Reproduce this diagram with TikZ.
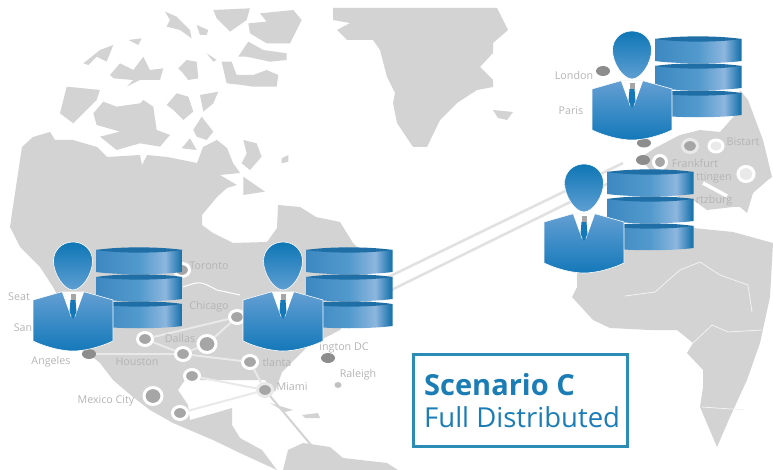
\documentclass[tikz,border=0pt]{standalone}
\usepackage{fontspec}
\setmainfont{Open Sans}
\usepackage{xcolor}
\usepackage{tikz}
\usetikzlibrary{shapes.geometric}
\definecolor{land}{HTML}{D3D3D3}
\definecolor{linkgray}{HTML}{E9E9E9}
\definecolor{oceanlink}{HTML}{E1E1E1}
\definecolor{citygray}{HTML}{A6A6A6}
\definecolor{citytext}{HTML}{B4B4B4}
\definecolor{headtop}{HTML}{0E76B5}
\definecolor{headbot}{HTML}{5F9FD3}
\definecolor{suittop}{HTML}{639FD3}
\definecolor{suitbot}{HTML}{1478B9}
\definecolor{dbleft}{HTML}{3D88C1}
\definecolor{dbmid}{HTML}{529ACD}
\definecolor{dblight}{HTML}{8DB6DE}
\definecolor{dbright}{HTML}{1C74AD}
\definecolor{dbtop}{HTML}{1F6FA6}
\definecolor{boxblue}{HTML}{2B8CB6}
\definecolor{textblue}{HTML}{1B7DB5}
\pgfdeclarehorizontalshading{dbshade}{100bp}{color(0bp)=(dbleft); color(25bp)=(dbleft); color(50bp)=(dbmid); color(65bp)=(dblight); color(74bp)=(dbright); color(75bp)=(dbright); color(100bp)=(dbright)}
\tikzset{
	ringcity/.style={ellipse,fill=citygray,draw=white,line width=3,inner sep=0,minimum width=15,minimum height=13},
	darkcity/.style={ringcity,minimum width=18,minimum height=17},
	palecity/.style={ringcity,fill=linkgray,minimum width=14,minimum height=12},
	dotcity/.style={ellipse,fill=citygray!85!black,inner sep=0,minimum width=14,minimum height=10},
	citylabel/.style={text=citytext,font=\fontsize{10.7}{11}\selectfont,inner sep=0},
	scenariotext/.style={anchor=base west,text=textblue,inner sep=0},
	link/.style={draw=linkgray,line width=2},
	oceanline/.style={draw=oceanlink,line width=2.6},
	border/.style={draw=white!70!land,line width=0.8},
	userdb/.pic={
		% DISKS
		\foreach \y in {-18,9,36}{
			\shade[shading=dbshade] (23,\y+2) -- (23,\y+24) .. controls (45,\y+27) and (87,\y+27) .. (109.5,\y+24) -- (109.5,\y+2) -- cycle;
			\fill[dbtop] (23,\y+2) .. controls (45,\y-1.5) and (87,\y-1.5) .. (109.5,\y+2) .. controls (87,\y+5.5) and (45,\y+5.5) .. (23,\y+2) -- cycle;
		}
		% BODY
		\shade[top color=suittop,bottom color=suitbot,draw=white,line width=0.6] (-12,26) -- (-40,34) -- (-40,75) .. controls (-25,82) and (-10,85) .. (0,85) .. controls (10,85) and (25,82) .. (40,75) -- (40,34) -- (12,26) -- cycle;
		\fill[white] (-11,26) -- (-2,51) -- (0,44) -- (2,51) -- (11,26) -- cycle;
		\fill[suitbot] (-2.5,34) -- (2.5,34) -- (3.5,46) -- (0,53) -- (-3.5,46) -- cycle;
		\fill[citygray] (-2.5,28) rectangle (2.5,34);
		% HEAD
		\shade[top color=headtop,bottom color=headbot,draw=white,line width=0.6] (0,-24) .. controls (12,-24) and (19.5,-15) .. (19.5,-5) .. controls (19.5,8) and (9,24) .. (0,24) .. controls (-9,24) and (-19.5,8) .. (-19.5,-5) .. controls (-19.5,-15) and (-12,-24) .. (0,-24) -- cycle;
	}
}
\begin{document}
\begin{tikzpicture}[x=1pt,y=-1pt]
	\useasboundingbox (0,0) rectangle (773,470);
	
	% AMERICA
	\fill[land] (22,147) -- (33,137) -- (50,132) -- (55,140) -- (73,140) -- (97,147) -- (107,157) -- (140,155) -- (142,165) -- (147,155) -- (167,157) -- (197,163) -- (203,147) -- (217,140) -- (227,148) -- (233,163) -- (240,173) -- (220,175) -- (237,185) -- (227,188) -- (217,197) -- (202,215) -- (202,225) -- (213,233) -- (233,243) -- (267,242) -- (277,228) -- (278,205) -- (300,207) -- (316,217) -- (340,222) -- (353,243) -- (365,255) -- (370,290) -- (340,330) -- (307,347) -- (282,372) -- (275,392) -- (265,380) -- (200,380) -- (185,380) -- (178,390) -- (188,405) -- (190,420) -- (215,413) -- (232,408) -- (232,425) -- (240,438) -- (262,450) -- (277,470) -- (240,453) -- (213,440) -- (173,423) -- (150,410) -- (133,397) -- (113,380) -- (100,363) -- (89,354) -- (53,287) -- (40,267) -- (20,247) -- (10,227) -- (12,213) -- cycle;
	\fill[land] (283,470) -- (288,450) -- (303,443) -- (330,447) -- (343,458) -- (387,463) -- (398,470) -- cycle;
	\fill[land] (270,403) -- (293,410) -- (285,412) -- cycle;
	\fill[land] (302,415) -- (318,413) -- (320,418) -- (305,418) -- cycle;
	
	% ISLANDS
	\begin{scope}[x=0.3333pt,y=-0.3333pt]
		\fill[land] (180,340) -- (200,260) -- (300,270) -- (290,300) -- (220,370) -- cycle;
		\fill[land] (280,340) -- (310,305) -- (350,320) -- (420,310) -- (430,300) -- (460,320) -- (470,390) -- (510,405) -- (480,440) -- (420,430) -- (350,450) -- (300,410) -- (360,395) -- (290,375) -- cycle;
		\fill[land] (250,190) -- (300,150) -- (340,135) -- (320,185) -- (290,170) -- (265,195) -- cycle;
		\fill[land] (330,225) -- (360,190) -- (400,210) -- (430,170) -- (450,210) -- (490,205) -- (480,240) -- (420,240) -- (380,260) -- (400,240) -- (340,235) -- cycle;
		\fill[land] (385,120) -- (425,115) -- (415,135) -- cycle;
		\fill[land] (495,35) -- (530,50) -- (570,90) -- (575,115) -- (540,90) -- (500,80) -- (510,60) -- cycle;
		\fill[land] (590,75) -- (625,90) -- (620,105) -- (600,105) -- cycle;
		\fill[land] (620,160) -- (650,180) -- (640,185) -- cycle;
		\fill[land] (535,205) -- (560,180) -- (590,185) -- (595,235) -- (565,240) -- (545,215) -- cycle;
		\fill[land] (600,285) -- (655,275) -- (640,310) -- (610,335) -- cycle;
		\fill[land] (500,315) -- (530,280) -- (565,290) -- (580,335) -- (550,360) -- (520,330) -- cycle;
		\fill[land] (580,390) -- (605,350) -- (640,395) -- (620,420) -- (590,410) -- cycle;
		\fill[land] (545,445) -- (570,415) -- (590,450) -- cycle;
		\fill[land] (665,185) -- (695,185) -- (710,225) -- (760,225) -- (800,210) -- (835,225) -- (830,260) -- (760,260) -- (725,255) -- (680,250) -- cycle;
		\fill[land] (715,170) -- (745,125) -- (790,150) -- (860,160) -- (860,180) -- (810,185) -- (740,170) -- cycle;
		\fill[land] (745,70) -- (800,65) -- (780,40) -- (880,30) -- (905,60) -- (870,130) -- (800,130) -- (750,100) -- cycle;
		\fill[land] (640,30) -- (750,25) -- (740,60) -- (690,95) -- (650,55) -- cycle;
		\fill[land] (730,420) -- (770,430) -- (785,470) -- (750,510) -- (725,490) -- (740,460) -- cycle;
		\fill[land] (845,475) -- (865,465) -- (865,485) -- (845,490) -- cycle;
		\fill[land] (730,530) -- (795,575) -- (730,585) -- cycle;
	\end{scope}
	
	% GREENLAND
	\fill[land] (333,8) -- (333,20) -- (350,23) -- (337,30) -- (347,40) -- (373,40) -- (380,50) -- (387,77) -- (395,93) -- (393,103) -- (397,123) -- (413,147) -- (427,147) -- (440,120) -- (457,103) -- (477,90) -- (493,87) -- (493,80) -- (480,67) -- (493,53) -- (493,43) -- (508,30) -- (497,8) -- cycle;
	\fill[land] (493,110) -- (513,112) -- (507,120) -- (498,118) -- cycle;
	
	% EUROPE
	\fill[land] (740,90) -- (748,100) -- (763,140) -- (772,177) -- (768,180) -- (753,193) -- (747,213) -- (740,207) -- (733,207) -- (707,210) -- (693,200) -- (670,195) -- (650,170) -- (640,158) -- (655,148) -- (680,135) -- (700,130) -- (720,132) -- (735,115) -- cycle;
	\draw[white,line width=3.5] (703,183) -- (727,196);
	
	% AFRICA
	\fill[land] (610,225) -- (693,228) -- (733,232) -- (773,243) -- (770,297) -- (760,343) -- (747,380) -- (730,417) -- (717,447) -- (700,407) -- (703,387) -- (703,370) -- (687,353) -- (693,343) -- (677,330) -- (650,330) -- (610,328) -- (593,320) -- (572,297) -- (577,287) -- (577,273) -- cycle;
	\draw[border] (625,296) -- (655,292) -- (680,270) -- (700,262) -- (720,275) -- (748,285) -- (752,312);
	\draw[border] (693,343) -- (712,325) -- (728,332) -- (762,330);
	\draw[border] (702,407) -- (745,410);
	
	% CITIES
	\node[ringcity] (toronto) at (182,270) {};
	\node[ringcity] (chicago) at (237,317) {};
	\node[ringcity] (dallas) at (145,339) {};
	\node[darkcity] (kansas) at (207,344) {};
	\node[ringcity] (memphis) at (183,354) {};
	\node[ringcity] (atlanta) at (250,362) {};
	\node[ringcity] (neworleans) at (192,376) {};
	\node[ringcity,draw=linkgray] (miami) at (265,390) {};
	\node[darkcity] (mexico) at (153,396) {};
	\node[ringcity] (merida) at (180,413) {};
	\node[dotcity] (angeles) at (89,354) {};
	\node[dotcity] (washington) at (328,358) {};
	\node[dotcity,minimum width=7,minimum height=6,fill=citygray!70] (raleigh) at (338,385) {};
	\node[ringcity,draw=linkgray] (stockholm) at (690,146) {};
	\node[palecity] (warsaw) at (716,146) {};
	\node[palecity,minimum width=16,minimum height=15] (vienna) at (746,174) {};
	\node[dotcity] (amsterdam) at (643,160) {};
	\node[ringcity,minimum width=13] (frankfurt) at (660,162) {};
	\node[dotcity,minimum height=9] (brussels) at (644,143) {};
	\node[dotcity] (london) at (603,71) {};
	
	\coordinate (atlUp) at (306,317);
	\coordinate (atlLow) at (306,332);
	\coordinate (euUp) at (623,163);
	\coordinate (euLow) at (623,176);
	\coordinate (south) at (332,470);
	\coordinate (borderW) at (183,287);
	\coordinate (borderM) at (217,290);
	\coordinate (borderE) at (240,295);
	
	% LINKS
	\draw[link] (chicago) -- (dallas);
	\draw[link] (chicago) -- (kansas);
	\draw[link] (kansas) -- (memphis);
	\draw[link] (dallas) -- (memphis);
	\draw[link] (memphis) -- (atlanta);
	\draw[link] (angeles) -- (memphis);
	\draw[link] (neworleans) -- (miami);
	\draw[link] (atlanta) -- (miami);
	\draw[link] (miami) -- (merida);
	\draw[land,line width=2] (miami) -- (south);
	\draw[oceanline] (atlUp) -- (euUp);
	\draw[oceanline] (atlLow) -- (euLow);
	\draw[white,line width=1] (borderW) .. controls (200,281) .. (borderM) -- (borderE);
	
	% LABELS
	\node[citylabel] (ltoronto) at (209,266) {Toronto};
	\node[citylabel] (lchicago) at (209,307) {Chicago};
	\node[citylabel] (ldallas) at (180,338) {Dallas};
	\node[citylabel] (lhouston) at (137,362) {Houston};
	\node[citylabel] (langeles) at (51,362) {Angeles};
	\node[citylabel] (lmexico) at (106,401) {Mexico City};
	\node[citylabel] (lmiami) at (292,387) {Miami};
	\node[citylabel] (lraleigh) at (358,375) {Raleigh};
	\node[citylabel] (latlanta) at (277,362) {tlanta};
	\node[citylabel] (lwashington) at (344,348) {ington DC};
	\node[citylabel] (lseat) at (19,297) {Seat};
	\node[citylabel] (lsan) at (23,328) {San};
	\node[citylabel] (llondon) at (574,75) {London};
	\node[citylabel] (lparis) at (571,111) {Paris};
	\node[citylabel] (lfrankfurt) at (695,163) {Frankfurt};
	\node[citylabel] (lgotting) at (714,178) {ttingen};
	\node[citylabel] (lwurz) at (714,201) {rtzburg};
	\node[citylabel] (lbist) at (743,142) {Bistart};
	
	% USERS
	\pic at (73,266) {userdb};
	\pic at (283,266) {userdb};
	\pic at (632,55) {userdb};
	\pic at (584,188) {userdb};
	
	% SCENARIO
	\node[draw=boxblue,line width=2.2,minimum width=214,minimum height=92] (scenario) at (520.5,400.5) {};
	\node[scenariotext,font=\fontsize{29}{32}\selectfont\bfseries] (scenariotitle) at (424,395) {Scenario C};
	\node[scenariotext,font=\fontsize{27.5}{32}\selectfont] (scenariosub) at (424,427) {Full Distributed};
\end{tikzpicture}
\end{document}
